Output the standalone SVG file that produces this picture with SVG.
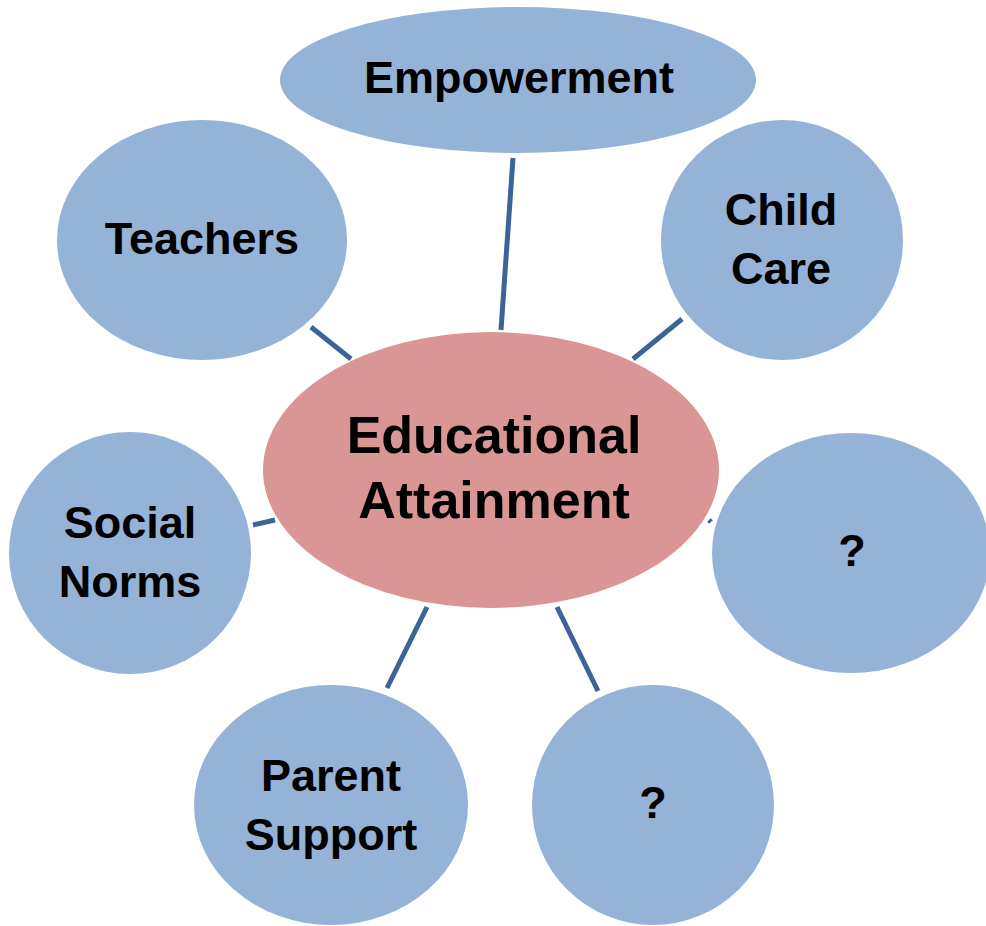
<svg xmlns="http://www.w3.org/2000/svg" width="986" height="926" viewBox="0 0 986 926">
<style>
.n{fill:#95B3D7}
.c{fill:#D99694}
.t{font-family:"Liberation Sans",Arial,sans-serif;font-weight:bold;font-size:45px;fill:#000;text-anchor:middle}
.big{font-size:52px}
.l{stroke:#3C6496;stroke-width:5;fill:none}
</style>
<rect width="986" height="926" fill="#fff"/>
<g id="connectors">
<line class="l" x1="513" y1="158" x2="501" y2="330"/>
<line class="l" x1="311" y1="327" x2="351" y2="359"/>
<line class="l" x1="682" y1="319" x2="633" y2="359"/>
<line class="l" x1="253" y1="525" x2="275" y2="520"/>
<line class="l" x1="709" y1="520" x2="711" y2="522"/>
<line class="l" x1="427" y1="607" x2="387" y2="688"/>
<line class="l" x1="557" y1="607" x2="598" y2="691"/>
</g>
<g id="empowerment">
<ellipse class="n" cx="518" cy="80" rx="238" ry="73"/>
<text class="t" x="519" y="93">Empowerment</text>
</g>
<g id="teachers">
<ellipse class="n" cx="202" cy="240" rx="145" ry="120"/>
<text class="t" x="202" y="254">Teachers</text>
</g>
<g id="childcare">
<ellipse class="n" cx="782" cy="240" rx="121" ry="120"/>
<text class="t" x="781" y="225">Child</text>
<text class="t" x="781" y="284">Care</text>
</g>
<g id="socialnorms">
<ellipse class="n" cx="130" cy="553" rx="121" ry="121"/>
<text class="t" x="130" y="538">Social</text>
<text class="t" x="130" y="597">Norms</text>
</g>
<g id="unknown1">
<ellipse class="n" cx="851" cy="553" rx="139" ry="120"/>
<text class="t" x="852" y="566">?</text>
</g>
<g id="parentsupport">
<ellipse class="n" cx="331" cy="805" rx="137" ry="120"/>
<text class="t" x="331" y="791">Parent</text>
<text class="t" x="331" y="850">Support</text>
</g>
<g id="unknown2">
<ellipse class="n" cx="653" cy="805" rx="121" ry="120"/>
<text class="t" x="653" y="818">?</text>
</g>
<g id="educational">
<ellipse class="c" cx="491" cy="470" rx="228" ry="138"/>
<text class="t big" x="494" y="453">Educational</text>
<text class="t big" x="494" y="518">Attainment</text>
</g>
</svg>
